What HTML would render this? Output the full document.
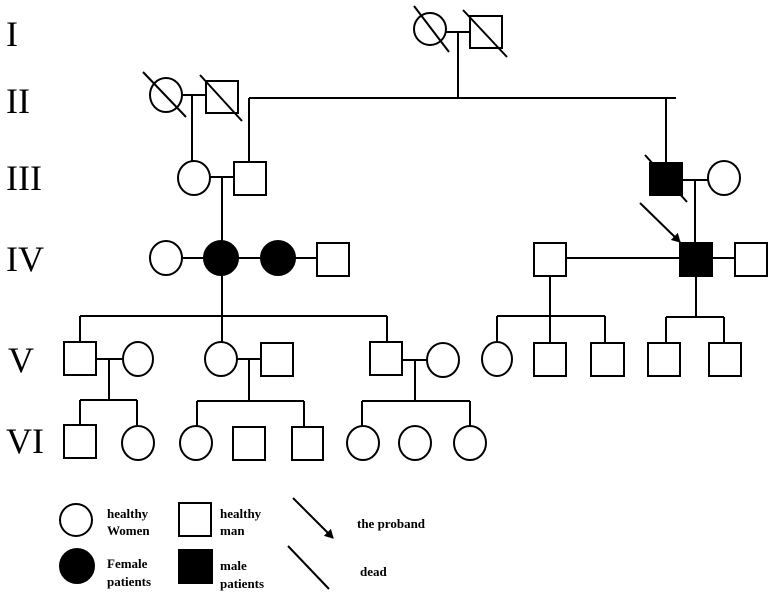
<!DOCTYPE html>
<html><head><style>body{margin:0;background:#fff}svg{display:block}</style></head><body>
<svg width="771" height="593" viewBox="0 0 771 593" xmlns="http://www.w3.org/2000/svg">
<defs><marker id="ah" markerWidth="10" markerHeight="10" refX="8" refY="5" orient="auto" markerUnits="userSpaceOnUse"><path d="M0,0 L9,5 L0,10 Z" fill="#000"/></marker></defs>
<g font-family="Liberation Serif, serif" font-size="36" fill="#000">
<text x="6" y="46" transform="scale(1,1)">I</text>
<text x="6" y="113">II</text>
<text x="6" y="190">III</text>
<text x="6" y="271">IV</text>
<text x="8" y="372">V</text>
<text x="6" y="453">VI</text>
</g>
<g stroke="#000" stroke-width="2" fill="none">
<!-- Gen I -->
<ellipse cx="430" cy="29" rx="16" ry="16" fill="#fff"/>
<rect x="470" y="16" width="32" height="32" fill="#fff"/>
<line x1="446" y1="32" x2="470" y2="32"/>
<line x1="458" y1="32" x2="458" y2="98"/>
<line x1="414" y1="6" x2="449" y2="52"/>
<line x1="463" y1="10" x2="507" y2="57"/>
<line x1="249" y1="98" x2="676" y2="98"/>
<line x1="249" y1="98" x2="249" y2="162"/>
<line x1="666" y1="98" x2="666" y2="163"/>
<!-- Gen II -->
<ellipse cx="166" cy="95" rx="16" ry="17" fill="#fff"/>
<rect x="206" y="81" width="32" height="32" fill="#fff"/>
<line x1="182" y1="95" x2="206" y2="95"/>
<line x1="192" y1="95" x2="192" y2="162"/>
<line x1="143" y1="72" x2="186" y2="117"/>
<line x1="200" y1="75" x2="242" y2="121"/>
<!-- Gen III -->
<ellipse cx="194" cy="178" rx="16" ry="17" fill="#fff"/>
<rect x="234" y="162" width="32" height="33" fill="#fff"/>
<line x1="210" y1="177" x2="234" y2="177"/>
<line x1="222" y1="177" x2="222" y2="241"/>
<rect x="650" y="163" width="32" height="32" fill="#000"/>
<line x1="645" y1="155" x2="687" y2="202"/>
<ellipse cx="724" cy="178" rx="16" ry="17" fill="#fff"/>
<line x1="682" y1="180" x2="708" y2="180"/>
<line x1="695" y1="180" x2="695" y2="243"/>
<line x1="640" y1="203" x2="680" y2="242" marker-end="url(#ah)"/>
<!-- Gen IV -->
<line x1="181" y1="258" x2="317" y2="258"/>
<ellipse cx="166" cy="258" rx="16" ry="17" fill="#fff"/>
<ellipse cx="221" cy="258" rx="17" ry="17" fill="#000"/>
<ellipse cx="278" cy="258" rx="17" ry="17" fill="#000"/>
<rect x="317" y="243" width="32" height="33" fill="#fff"/>
<line x1="566" y1="258" x2="735" y2="258"/>
<rect x="534" y="243" width="32" height="33" fill="#fff"/>
<rect x="680" y="243" width="32" height="33" fill="#000"/>
<rect x="735" y="243" width="32" height="33" fill="#fff"/>
<line x1="222" y1="275" x2="222" y2="342"/>
<line x1="80" y1="316" x2="387" y2="316"/>
<line x1="80" y1="316" x2="80" y2="342"/>
<line x1="387" y1="316" x2="387" y2="342"/>
<line x1="550" y1="276" x2="550" y2="342"/>
<line x1="497" y1="316" x2="605" y2="316"/>
<line x1="497" y1="316" x2="497" y2="342"/>
<line x1="605" y1="316" x2="605" y2="342"/>
<line x1="696" y1="276" x2="696" y2="317"/>
<line x1="666" y1="317" x2="724" y2="317"/>
<line x1="666" y1="317" x2="666" y2="342"/>
<line x1="724" y1="317" x2="724" y2="342"/>
<!-- Gen V -->
<rect x="64" y="342" width="32" height="33" fill="#fff"/>
<ellipse cx="138" cy="359" rx="15" ry="17" fill="#fff"/>
<line x1="96" y1="359" x2="123" y2="359"/>
<line x1="109" y1="359" x2="109" y2="400"/>
<line x1="80" y1="400" x2="137" y2="400"/>
<line x1="80" y1="400" x2="80" y2="425"/>
<line x1="137" y1="400" x2="137" y2="425"/>
<ellipse cx="221" cy="359" rx="16" ry="17" fill="#fff"/>
<rect x="261" y="343" width="32" height="33" fill="#fff"/>
<line x1="237" y1="359" x2="261" y2="359"/>
<line x1="249" y1="359" x2="249" y2="401"/>
<line x1="197" y1="401" x2="304" y2="401"/>
<line x1="197" y1="401" x2="197" y2="426"/>
<line x1="304" y1="401" x2="304" y2="427"/>
<rect x="370" y="342" width="32" height="33" fill="#fff"/>
<ellipse cx="443" cy="360" rx="16" ry="17" fill="#fff"/>
<line x1="402" y1="360" x2="427" y2="360"/>
<line x1="415" y1="360" x2="415" y2="401"/>
<line x1="362" y1="401" x2="470" y2="401"/>
<line x1="362" y1="401" x2="362" y2="426"/>
<line x1="470" y1="401" x2="470" y2="427"/>
<ellipse cx="497" cy="359" rx="15" ry="17" fill="#fff"/>
<rect x="534" y="343" width="32" height="33" fill="#fff"/>
<rect x="591" y="343" width="33" height="33" fill="#fff"/>
<rect x="648" y="343" width="32" height="33" fill="#fff"/>
<rect x="709" y="343" width="32" height="33" fill="#fff"/>
<!-- Gen VI -->
<rect x="64" y="425" width="32" height="33" fill="#fff"/>
<ellipse cx="138" cy="443" rx="16" ry="17" fill="#fff"/>
<ellipse cx="196" cy="443" rx="16" ry="17" fill="#fff"/>
<rect x="233" y="427" width="32" height="33" fill="#fff"/>
<rect x="292" y="427" width="31" height="33" fill="#fff"/>
<ellipse cx="363" cy="443" rx="16" ry="17" fill="#fff"/>
<ellipse cx="415" cy="443" rx="16" ry="17" fill="#fff"/>
<ellipse cx="470" cy="443" rx="16" ry="17" fill="#fff"/>
<!-- Legend -->
<ellipse cx="76" cy="520" rx="16" ry="16" fill="#fff"/>
<rect x="179" y="503" width="32" height="33" fill="#fff"/>
<line x1="293" y1="498" x2="333" y2="538" marker-end="url(#ah)"/>
<ellipse cx="77" cy="566" rx="17" ry="17" fill="#000"/>
<rect x="179" y="550" width="33" height="33" fill="#000"/>
<line x1="288" y1="546" x2="329" y2="589"/>
</g>
<g font-family="Liberation Serif, serif" font-size="13" font-weight="bold" fill="#000">
<text x="107" y="518">healthy</text>
<text x="107" y="535">Women</text>
<text x="220" y="518">healthy</text>
<text x="220" y="535">man</text>
<text x="357" y="528">the proband</text>
<text x="107" y="568">Female</text>
<text x="107" y="586">patients</text>
<text x="220" y="570">male</text>
<text x="220" y="588">patients</text>
<text x="360" y="576">dead</text>
</g>
</svg>
</body></html>
